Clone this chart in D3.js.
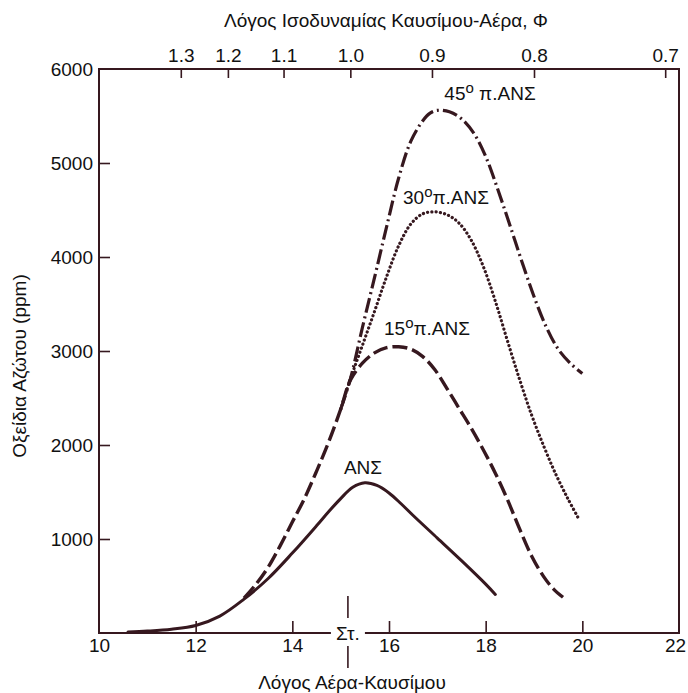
<!DOCTYPE html>
<html>
<head>
<meta charset="utf-8">
<script src="https://cdn.jsdelivr.net/npm/d3@7"></script>
<style>
  body { margin: 0; background: #fff; }
  text { font-family: "Liberation Sans", Arial, sans-serif; fill: #111; }
</style>
</head>
<body>
<script>
// Chart stuff
var width = 688,
    height = 693;
var margin = {top: 69, right: 9, bottom: 60, left: 99};

// Data (air-fuel ratio, NOx ppm)
var stoich = 15.2;          // stoichiometric air/fuel ratio
var stoichMark = 15.15;     // where the "Στ." marker sits
var xTicks = [10, 12, 14, 16, 18, 20, 22];
var yTicks = [1000, 2000, 3000, 4000, 5000, 6000];
var phiTicks = [1.3, 1.2, 1.1, 1.0, 0.9, 0.8, 0.7];

// ΑΝΣ (solid)
var afrMbt = [10.6, 11, 11.5, 12, 12.5, 13, 13.5, 14, 14.5, 14.75, 15, 15.25, 15.5, 15.75, 16, 16.25, 16.5, 17, 17.5, 18, 18.2];
var noxMbt = [10, 20, 40, 80, 180, 360, 580, 850, 1140, 1290, 1430, 1550, 1598, 1570, 1490, 1375, 1250, 1010, 770, 520, 410];

// 15° π.ΑΝΣ (dashed)
var afr15 = [13, 13.25, 13.5, 13.75, 14, 14.25, 14.5, 14.75, 15, 15.2, 15.45, 15.7, 15.95, 16.2, 16.45, 16.7, 16.95, 17.2, 17.45, 17.7, 17.95, 18.2, 18.45, 18.7, 18.95, 19.2, 19.4, 19.6];
var nox15 = [370, 520, 700, 930, 1180, 1430, 1720, 2030, 2380, 2690, 2870, 2980, 3035, 3045, 3020, 2940, 2800, 2600, 2390, 2180, 1950, 1700, 1420, 1110, 820, 600, 470, 380];

// 30° π.ΑΝΣ (dotted)
var afr30 = [15, 15.2, 15.45, 15.7, 15.95, 16.2, 16.45, 16.7, 16.95, 17.2, 17.45, 17.7, 17.95, 18.2, 18.45, 18.7, 18.95, 19.2, 19.45, 19.7, 19.92];
var nox30 = [2380, 2700, 3060, 3420, 3790, 4120, 4350, 4460, 4480, 4450, 4360, 4180, 3900, 3530, 3110, 2700, 2320, 1990, 1690, 1430, 1220];

// 45° π.ΑΝΣ (dash-dot)
var afr45 = [15, 15.2, 15.45, 15.7, 15.95, 16.2, 16.45, 16.7, 16.85, 17, 17.25, 17.5, 17.75, 18, 18.25, 18.5, 18.75, 19, 19.25, 19.5, 19.75, 20];
var nox45 = [2380, 2700, 3250, 3780, 4320, 4840, 5230, 5450, 5530, 5560, 5545, 5470, 5320, 5070, 4720, 4340, 3950, 3580, 3260, 3020, 2870, 2760];

var seriesNames = ["ΑΝΣ", "15°π.ΑΝΣ", "30°π.ΑΝΣ", "45°π.ΑΝΣ"];

var ink = "#36181f";
var fontSize = "19px";

var svg = d3.select("body").append("svg")
    .attr("width", width)
    .attr("height", height);

var x = d3.scaleLinear()
    .domain([10, 22])
    .range([margin.left, width - margin.right]);
var y = d3.scaleLinear()
    .domain([0, 6000])
    .range([height - margin.bottom, margin.top]);

// Frame
svg.append("rect")
    .attr("x", x(10)).attr("y", y(6000))
    .attr("width", x(22) - x(10)).attr("height", y(0) - y(6000))
    .attr("fill", "none").attr("stroke", ink).attr("stroke-width", 2);

// Axes, ticks pointing inward
var bottomAxis = svg.append("g")
    .attr("transform", "translate(0," + y(0) + ")")
    .call(d3.axisBottom(x).tickValues(xTicks).tickSize(-12).tickPadding(6));
var leftAxis = svg.append("g")
    .attr("transform", "translate(" + x(10) + ",0)")
    .call(d3.axisLeft(y).tickValues(yTicks).tickFormat(d3.format("d")).tickSize(-11).tickPadding(6));
var topAxis = svg.append("g")
    .attr("transform", "translate(0," + y(6000) + ")")
    .call(d3.axisTop(x)
        .tickValues(phiTicks.map(function(p) { return stoich / p; }))
        .tickFormat(function(d) { return d3.format(".1f")(stoich / d); })
        .tickSize(-9).tickPadding(7));

[bottomAxis, leftAxis, topAxis].forEach(function(g) {
    g.select(".domain").remove();
    g.selectAll("line").attr("stroke", ink).attr("stroke-width", 1.6);
    g.selectAll("text").style("font-size", fontSize).attr("fill", "#111")
        .style("font-family", "'Liberation Sans', Arial, sans-serif");
});
// end ticks coincide with the frame
bottomAxis.selectAll(".tick").filter(function(d) { return d === 10 || d === 22; }).select("line").remove();
bottomAxis.selectAll(".tick").filter(function(d) { return d === 22; }).select("text").attr("dx", -4);
leftAxis.selectAll(".tick").filter(function(d) { return d === 6000; }).select("line").remove();

// Stoichiometric marker
svg.append("line")
    .attr("x1", x(stoichMark)).attr("x2", x(stoichMark))
    .attr("y1", y(0) - 37).attr("y2", y(0) - 15)
    .attr("stroke", ink).attr("stroke-width", 1.6);
svg.append("line")
    .attr("x1", x(stoichMark)).attr("x2", x(stoichMark))
    .attr("y1", y(0) + 13).attr("y2", y(0) + 35)
    .attr("stroke", ink).attr("stroke-width", 1.6);
svg.append("rect")
    .attr("x", x(stoichMark) - 17).attr("y", y(0) - 9)
    .attr("width", 34).attr("height", 18)
    .attr("fill", "#fff");
svg.append("text")
    .attr("x", x(stoichMark)).attr("y", y(0) + 7)
    .attr("text-anchor", "middle")
    .style("font-size", fontSize)
    .text("Στ.");

// Curves
var line = d3.line()
    .x(function(d) { return x(d[0]); })
    .y(function(d) { return y(d[1]); })
    .curve(d3.curveCatmullRom.alpha(0.5));

function pairs(a, b) { return a.map(function(v, i) { return [v, b[i]]; }); }

var curves = [
    {data: pairs(afrMbt, noxMbt), dash: null, w: 3, cap: "round"},
    {data: pairs(afr15, nox15), dash: "15,5", w: 3.4, cap: "butt"},
    {data: pairs(afr30, nox30), dash: "0.1,4.2", w: 3.2, cap: "round"},
    {data: pairs(afr45, nox45), dash: "15,4,2,4", w: 3.2, cap: "butt"}
];

svg.append("g").selectAll("path")
    .data(curves)
  .enter().append("path")
    .attr("d", function(d) { return line(d.data); })
    .attr("fill", "none")
    .attr("stroke", ink)
    .attr("stroke-width", function(d) { return d.w; })
    .attr("stroke-linecap", function(d) { return d.cap; })
    .attr("stroke-dasharray", function(d) { return d.dash; });

// Curve labels
var labelPos = [[363, 474], [427, 335], [446, 204], [490, 100]];
var labels = svg.append("g").selectAll("text")
    .data(seriesNames)
  .enter().append("text")
    .attr("x", function(d, i) { return labelPos[i][0]; })
    .attr("y", function(d, i) { return labelPos[i][1]; })
    .attr("text-anchor", "middle")
    .style("font-size", fontSize);
labels.each(function(d) {
    var parts = d.split("°");
    var t = d3.select(this);
    if (parts.length === 1) { t.text(d); return; }
    t.append("tspan").text(parts[0]);
    t.append("tspan").attr("dy", -7).style("font-size", "15px").text("o");
    t.append("tspan").attr("dy", 7).text((d.indexOf("45") === 0 ? " " : "") + parts[1]);
});

// Titles
svg.append("text")
    .attr("x", 386).attr("y", 27)
    .attr("text-anchor", "middle")
    .style("font-size", fontSize)
    .text("Λόγος Ισοδυναμίας Καυσίμου-Αέρα, Φ");
svg.append("text")
    .attr("x", 352).attr("y", 689)
    .attr("text-anchor", "middle")
    .style("font-size", fontSize)
    .text("Λόγος Αέρα-Καυσίμου");
svg.append("text")
    .attr("transform", "translate(26,366) rotate(-90)")
    .attr("text-anchor", "middle")
    .style("font-size", fontSize)
    .text("Οξείδια Αζώτου (ppm)");
</script>
</body>
</html>
